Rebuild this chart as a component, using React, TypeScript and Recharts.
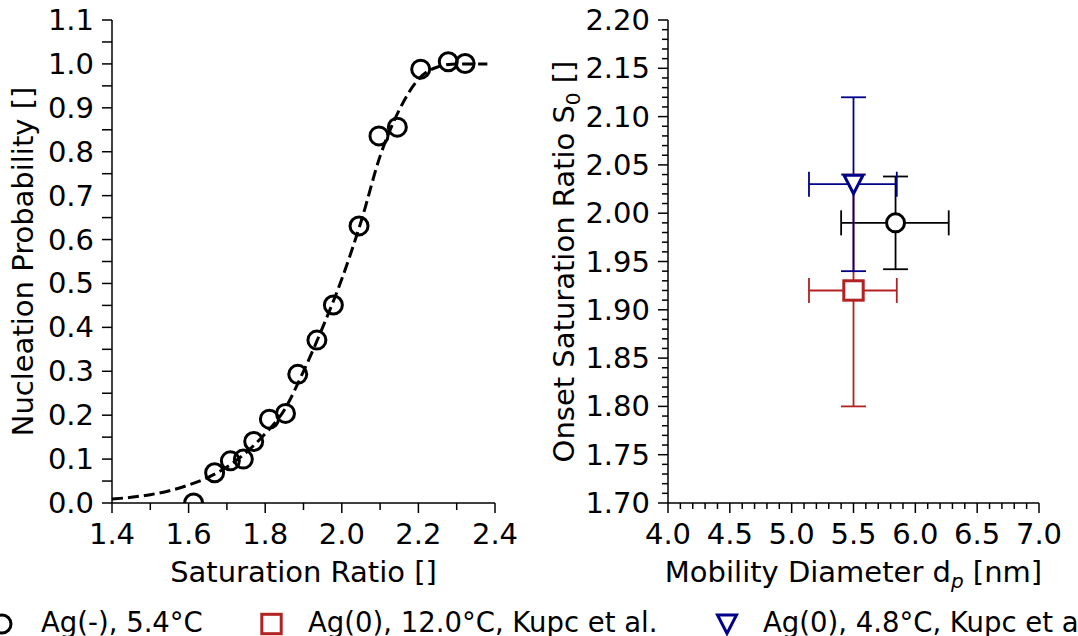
import React from 'react';
import { ScatterChart, Scatter, XAxis, YAxis, ErrorBar } from 'recharts';

const FONT = '"DejaVu Sans", Verdana, sans-serif';
const TICK_FS = 29;
const TITLE_FS = 29;
const LEGEND_FS = 27.5;

// ---------------- Left panel: nucleation probability ----------------
const satRatio = [1.613, 1.668, 1.709, 1.743, 1.77, 1.811, 1.853, 1.885, 1.935, 1.978, 2.045, 2.097, 2.145, 2.206, 2.278, 2.322];
const nucProb = [0.0, 0.069, 0.096, 0.1, 0.14, 0.191, 0.204, 0.293, 0.371, 0.451, 0.631, 0.836, 0.856, 0.988, 1.005, 1.001];

// dashed fit curve
const fitSat = [1.4, 1.45, 1.5, 1.55, 1.6, 1.65, 1.7, 1.75, 1.8, 1.85, 1.9, 1.95, 2.0, 2.05, 2.1, 2.15, 2.2, 2.25, 2.3, 2.38];
const fitProb = [0.009, 0.013, 0.019, 0.028, 0.041, 0.058, 0.082, 0.115, 0.158, 0.212, 0.3, 0.4, 0.51, 0.64, 0.79, 0.895, 0.965, 0.993, 1.0, 1.0];

const leftXTicks = [1.4, 1.6, 1.8, 2.0, 2.2, 2.4];
const leftYTicks = [0.0, 0.1, 0.2, 0.3, 0.4, 0.5, 0.6, 0.7, 0.8, 0.9, 1.0, 1.1];

// ---------------- Right panel: onset saturation ratio ----------------
const seriesNames = ['Ag(-), 5.4°C', 'Ag(0), 12.0°C, Kupc et al.', 'Ag(0), 4.8°C, Kupc et al.'];
const seriesColors = ['#000000', '#b22222', '#00008b'];
const onsetDiameter = [5.84, 5.5, 5.5];
const onsetDiameterErrLow = [0.44, 0.36, 0.36];
const onsetDiameterErrHigh = [0.43, 0.35, 0.35];
const onsetS0 = [1.99, 1.92, 2.03];
const onsetS0ErrLow = [0.048, 0.12, 0.09];
const onsetS0ErrHigh = [0.048, 0.12, 0.09];

const rightXTicks = [4.0, 4.5, 5.0, 5.5, 6.0, 6.5, 7.0];
const rightYTicks = [1.7, 1.75, 1.8, 1.85, 1.9, 1.95, 2.0, 2.05, 2.1, 2.15, 2.2];

// ---------------- helpers ----------------
function minorTicks(lo: number, hi: number, step: number, majors: number[]) {
  const out: number[] = [];
  const n = Math.round((hi - lo) / step);
  for (let i = 0; i <= n; i++) {
    const v = +(lo + i * step).toFixed(6);
    if (!majors.some((m) => Math.abs(m - v) < 1e-6)) out.push(v);
  }
  return out;
}
const isIn = (arr: number[], v: number) => arr.some((m) => Math.abs(m - v) < 1e-6);

function bottomTick(majors: number[], digits: number, majorLen: number, minorLen: number) {
  return (props: any) => {
    const { x, y, payload } = props;
    const v = Number(payload.value);
    const major = isIn(majors, v);
    return (
      <g>
        <line x1={x} x2={x} y1={y} y2={y + (major ? majorLen : minorLen)} stroke="#000" strokeWidth={1.5} />
        {major && (
          <text x={x} y={y + 41} textAnchor="middle" fontFamily={FONT} fontSize={TICK_FS} fill="#000">
            {v.toFixed(digits)}
          </text>
        )}
      </g>
    );
  };
}

function leftTick(majors: number[], digits: number, majorLen: number, minorLen: number) {
  return (props: any) => {
    const { x, y, payload } = props;
    const v = Number(payload.value);
    const major = isIn(majors, v);
    return (
      <g>
        <line x1={x - (major ? majorLen : minorLen)} x2={x} y1={y} y2={y} stroke="#000" strokeWidth={1.5} />
        {major && (
          <text x={x - 18} y={y + 10} textAnchor="end" fontFamily={FONT} fontSize={TICK_FS} fill="#000">
            {v.toFixed(digits)}
          </text>
        )}
      </g>
    );
  };
}

const xTitle = (content: React.ReactNode) => (p: any) => {
  const vb = p.viewBox || { x: 0, y: 0, width: 0, height: 0 };
  return (
    <text x={vb.x + vb.width / 2} y={vb.y + 79} textAnchor="middle" fontFamily={FONT} fontSize={TITLE_FS} fill="#000">
      {content}
    </text>
  );
};

const yTitle = (content: React.ReactNode, baseX: number) => (p: any) => {
  const vb = p.viewBox || { x: 0, y: 0, width: 0, height: 0 };
  const x = vb.x + baseX;
  const y = vb.y + vb.height / 2;
  return (
    <text x={x} y={y} transform={`rotate(-90 ${x} ${y})`} textAnchor="middle" fontFamily={FONT} fontSize={TITLE_FS} fill="#000">
      {content}
    </text>
  );
};

// marker shapes
const circleMark = (cx: number, cy: number, fill: string, color = '#000') => (
  <circle cx={cx} cy={cy} r={9} fill={fill} stroke={color} strokeWidth={3} />
);
const squareMark = (cx: number, cy: number, color: string) => (
  <rect x={cx - 9.7} y={cy - 9.7} width={19.4} height={19.4} fill="#fff" stroke={color} strokeWidth={3} />
);
const triDownMark = (cx: number, cy: number, color: string) => (
  <polygon
    points={`${cx - 9.5},${cy - 9} ${cx + 9.5},${cy - 9} ${cx},${cy + 9.5}`}
    fill="#fff"
    stroke={color}
    strokeWidth={3}
    strokeLinejoin="miter"
  />
);

const AXIS_LINE = { stroke: '#000', strokeWidth: 1.5 };

function LeftChart() {
  const points = satRatio.map((x, i) => ({ x, y: nucProb[i] }));
  const curve = fitSat.map((x, i) => ({ x, y: fitProb[i] }));
  const xMinor = minorTicks(1.4, 2.4, 0.1, leftXTicks);
  const yMinor = minorTicks(0, 1.1, 0.05, leftYTicks);
  return (
    <ScatterChart width={540} height={600} margin={{ top: 20, right: 45, bottom: 0, left: 0 }}>
      <XAxis
        dataKey="x"
        type="number"
        domain={[1.4, 2.4]}
        allowDataOverflow
        ticks={[...leftXTicks, ...xMinor]}
        interval={0}
        tickSize={0}
        tickMargin={0}
        tickLine={false}
        tick={bottomTick(leftXTicks, 1, 10, 7)}
        axisLine={AXIS_LINE}
        height={97}
        label={{ content: xTitle('Saturation Ratio []') }}
      />
      <YAxis
        dataKey="y"
        type="number"
        domain={[0, 1.1]}
        allowDataOverflow
        ticks={[...leftYTicks, ...yMinor]}
        interval={0}
        tickSize={0}
        tickMargin={0}
        tickLine={false}
        tick={leftTick(leftYTicks, 1, 10, 10)}
        axisLine={AXIS_LINE}
        width={112}
        label={{ content: yTitle('Nucleation Probability []', 33) }}
      />
      <XAxis xAxisId="top" orientation="top" type="number" domain={[1.4, 2.4]} height={0} tick={false} tickLine={false} axisLine={AXIS_LINE} />
      <YAxis yAxisId="right" orientation="right" type="number" domain={[0, 1.1]} width={0} tick={false} tickLine={false} axisLine={AXIS_LINE} />
      <Scatter
        data={curve}
        isAnimationActive={false}
        line={{ stroke: '#000', strokeWidth: 3, strokeDasharray: '11 5' }}
        lineJointType="monotoneX"
        shape={() => <g />}
      />
      <Scatter data={points} isAnimationActive={false} shape={(p: any) => circleMark(p.cx, p.cy, 'none')} />
    </ScatterChart>
  );
}

function RightChart() {
  const series = onsetDiameter.map((x, i) => [
    {
      x,
      y: onsetS0[i],
      ex: [onsetDiameterErrLow[i], onsetDiameterErrHigh[i]],
      ey: [onsetS0ErrLow[i], onsetS0ErrHigh[i]],
    },
  ]);
  const xMinor = minorTicks(4, 7, 0.1, rightXTicks);
  const yMinor = minorTicks(1.7, 2.2, 0.01, rightYTicks);
  const shapes = [
    (p: any) => circleMark(p.cx, p.cy, '#fff', seriesColors[0]),
    (p: any) => squareMark(p.cx, p.cy, seriesColors[1]),
    (p: any) => triDownMark(p.cx, p.cy, seriesColors[2]),
  ];
  return (
    <ScatterChart width={538} height={600} margin={{ top: 20, right: 39, bottom: 0, left: 0 }}>
      <XAxis
        dataKey="x"
        type="number"
        domain={[4, 7]}
        allowDataOverflow
        ticks={[...rightXTicks, ...xMinor]}
        interval={0}
        tickSize={0}
        tickMargin={0}
        tickLine={false}
        tick={bottomTick(rightXTicks, 1, 10, 6)}
        axisLine={AXIS_LINE}
        height={97}
        label={{
          content: xTitle(
            <>
              Mobility Diameter d
              <tspan fontStyle="italic" fontSize={20} dy={6}>p</tspan>
              <tspan dy={-6}> [nm]</tspan>
            </>
          ),
        }}
      />
      <YAxis
        dataKey="y"
        type="number"
        domain={[1.7, 2.2]}
        allowDataOverflow
        ticks={[...rightYTicks, ...yMinor]}
        interval={0}
        tickSize={0}
        tickMargin={0}
        tickLine={false}
        tick={leftTick(rightYTicks, 2, 10, 6)}
        axisLine={AXIS_LINE}
        width={128}
        label={{
          content: yTitle(
            <>
              Onset Saturation Ratio S
              <tspan fontSize={20} dy={6}>0</tspan>
              <tspan dy={-6}> []</tspan>
            </>,
            34
          ),
        }}
      />
      <XAxis xAxisId="top" orientation="top" type="number" domain={[4, 7]} height={0} tick={false} tickLine={false} axisLine={AXIS_LINE} />
      <YAxis yAxisId="right" orientation="right" type="number" domain={[1.7, 2.2]} width={0} tick={false} tickLine={false} axisLine={AXIS_LINE} />
      {series.map((d, i) => (
        <Scatter key={seriesNames[i]} name={seriesNames[i]} data={d} isAnimationActive={false} shape={shapes[i]}>
          <ErrorBar dataKey="ex" direction="x" width={12.5} stroke={seriesColors[i]} strokeWidth={1.8} isAnimationActive={false} />
          <ErrorBar dataKey="ey" direction="y" width={12.5} stroke={seriesColors[i]} strokeWidth={1.8} isAnimationActive={false} />
        </Scatter>
      ))}
    </ScatterChart>
  );
}

function LegendRow() {
  const markerX = [2, 271.5, 727];
  const textX = [41, 308, 763];
  const cy = 28;
  const marks = [
    circleMark(markerX[0], cy, '#fff', seriesColors[0]),
    squareMark(markerX[1], cy, seriesColors[1]),
    triDownMark(markerX[2], cy, seriesColors[2]),
  ];
  return (
    <svg width={1078} height={40} style={{ position: 'absolute', left: 0, top: 596, overflow: 'hidden' }}>
      {seriesNames.map((n, i) => (
        <g key={n}>
          {marks[i]}
          <text x={textX[i]} y={36} fontFamily={FONT} fontSize={LEGEND_FS} fill="#000">
            {n}
          </text>
        </g>
      ))}
    </svg>
  );
}

export default function App() {
  return (
    <div
      style={{
        position: 'absolute',
        left: 0,
        top: 0,
        width: 1078,
        height: 636,
        overflow: 'hidden',
        background: '#fff',
        fontFamily: FONT,
      }}
    >
      <div style={{ position: 'absolute', left: 0, top: 0 }}>
        <LeftChart />
      </div>
      <div style={{ position: 'absolute', left: 540, top: 0 }}>
        <RightChart />
      </div>
      <LegendRow />
    </div>
  );
}
